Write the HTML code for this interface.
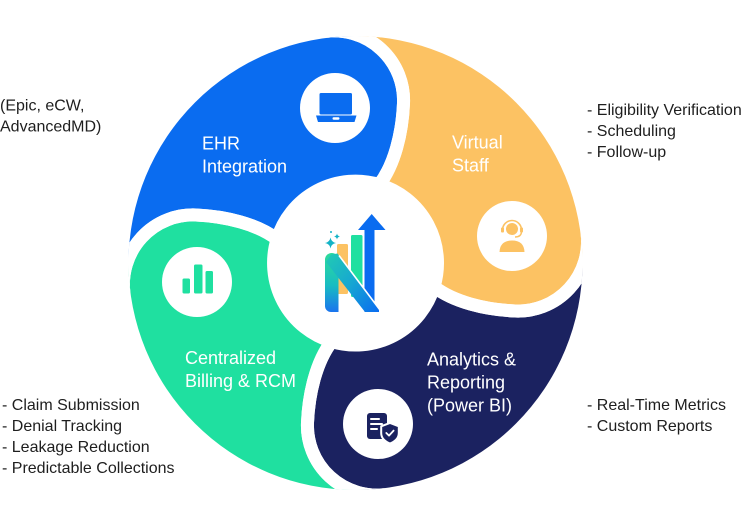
<!DOCTYPE html>
<html>
<head>
<meta charset="utf-8">
<style>
  html, body { margin: 0; padding: 0; background: #ffffff; }
  body { width: 752px; height: 532px; overflow: hidden; }
  svg { display: block; }
  .side { font-family: "Liberation Sans", Arial, sans-serif; font-size: 16px; fill: #1e1e1e; }
  .lbl { font-family: "Liberation Sans", Arial, sans-serif; font-size: 18px; fill: #ffffff; }
</style>
</head>
<body>
<svg width="752" height="532" viewBox="0 0 752 532" xmlns="http://www.w3.org/2000/svg">
  <defs>
    <clipPath id="outer">
      <circle cx="355.5" cy="263" r="227"/>
    </clipPath>
    <linearGradient id="gs" x1="0" y1="0" x2="0" y2="1">
      <stop offset="0" stop-color="#2ddc9a"/>
      <stop offset="0.55" stop-color="#19bcc2"/>
      <stop offset="1" stop-color="#1a74ee"/>
    </linearGradient>
    <linearGradient id="gd" x1="0" y1="0" x2="1" y2="1">
      <stop offset="0" stop-color="#22cbb2"/>
      <stop offset="0.5" stop-color="#16a6d2"/>
      <stop offset="1" stop-color="#0a6cf0"/>
    </linearGradient>
  </defs>

  <g clip-path="url(#outer)">
    <!-- fills -->
    <path fill="#0a6cf0" d="M379.3,184.6 C394.5,164.6 402.2,133.4 403.5,103.4 A69.5,69.5 0 0 0 325.0,31.5 L323.5,20.1 A245,245 0 0 0 112.6,295.0 L124.0,293.5 A69.5,69.5 0 0 1 195.9,215.0 C225.9,216.3 257.1,224.0 277.1,239.2 A82,82 0 0 1 379.3,184.6 Z"/>
    <path fill="#fcc263" d="M434.0,286.8 C453.9,302.0 485.1,309.7 515.1,311.0 A69.5,69.5 0 0 0 587.0,232.5 L598.4,231.0 A245,245 0 0 0 323.5,20.1 L325.0,31.5 A69.5,69.5 0 0 1 403.5,103.4 C402.2,133.4 394.5,164.6 379.3,184.6 A82,82 0 0 1 434.0,286.8 Z"/>
    <path fill="#1b2260" d="M331.7,341.5 C316.5,361.4 308.8,392.6 307.5,422.6 A69.5,69.5 0 0 0 386.0,494.5 L387.5,505.9 A245,245 0 0 0 598.4,231.0 L587.0,232.5 A69.5,69.5 0 0 1 515.1,311.0 C485.1,309.7 453.9,302.0 434.0,286.8 A82,82 0 0 1 331.7,341.5 Z"/>
    <path fill="#1fe0a0" d="M277.1,239.2 C257.1,224.0 225.9,216.3 195.9,215.0 A69.5,69.5 0 0 0 124.0,293.5 L112.6,295.0 A245,245 0 0 0 387.5,505.9 L386.0,494.5 A69.5,69.5 0 0 1 307.5,422.6 C308.8,392.6 316.5,361.4 331.7,341.5 A82,82 0 0 1 277.1,239.2 Z"/>
    <!-- white gaps -->
    <g fill="none" stroke="#ffffff" stroke-width="13" stroke-linejoin="round">
      <path d="M379.3,184.6 C394.5,164.6 402.2,133.4 403.5,103.4 A69.5,69.5 0 0 0 325.0,31.5 L323.5,20.1 A245,245 0 0 0 112.6,295.0 L124.0,293.5 A69.5,69.5 0 0 1 195.9,215.0 C225.9,216.3 257.1,224.0 277.1,239.2 A82,82 0 0 1 379.3,184.6 Z"/>
      <path d="M434.0,286.8 C453.9,302.0 485.1,309.7 515.1,311.0 A69.5,69.5 0 0 0 587.0,232.5 L598.4,231.0 A245,245 0 0 0 323.5,20.1 L325.0,31.5 A69.5,69.5 0 0 1 403.5,103.4 C402.2,133.4 394.5,164.6 379.3,184.6 A82,82 0 0 1 434.0,286.8 Z"/>
      <path d="M331.7,341.5 C316.5,361.4 308.8,392.6 307.5,422.6 A69.5,69.5 0 0 0 386.0,494.5 L387.5,505.9 A245,245 0 0 0 598.4,231.0 L587.0,232.5 A69.5,69.5 0 0 1 515.1,311.0 C485.1,309.7 453.9,302.0 434.0,286.8 A82,82 0 0 1 331.7,341.5 Z"/>
      <path d="M277.1,239.2 C257.1,224.0 225.9,216.3 195.9,215.0 A69.5,69.5 0 0 0 124.0,293.5 L112.6,295.0 A245,245 0 0 0 387.5,505.9 L386.0,494.5 A69.5,69.5 0 0 1 307.5,422.6 C308.8,392.6 316.5,361.4 331.7,341.5 A82,82 0 0 1 277.1,239.2 Z"/>
    </g>
  </g>

  <!-- icon circles -->
  <circle cx="335" cy="108" r="35" fill="#ffffff"/>
  <circle cx="512" cy="236" r="35" fill="#ffffff"/>
  <circle cx="378" cy="424" r="35" fill="#ffffff"/>
  <circle cx="197" cy="282" r="35" fill="#ffffff"/>

  <!-- laptop icon -->
  <rect x="319.5" y="93" width="32.5" height="21.5" rx="1.5" fill="#0a6cf0"/>
  <polygon points="316,115.5 356.5,115.5 354.5,122 318,122" fill="#0a6cf0"/>
  <rect x="332.5" y="117.3" width="7" height="2.4" rx="1.2" fill="#ffffff"/>

  <!-- headset icon -->
  <circle cx="512" cy="229" r="6" fill="#fcc263"/>
  <path d="M502.5,230 A9.5,9.5 0 0 1 521.5,230" fill="none" stroke="#fcc263" stroke-width="1.6"/>
  <rect x="501" y="227.5" width="3" height="5" rx="1" fill="#fcc263"/>
  <rect x="520" y="227.5" width="3" height="5" rx="1" fill="#fcc263"/>
  <path d="M521.5,232 Q521,237 515,237" fill="none" stroke="#fcc263" stroke-width="1.4"/>
  <path d="M499.5,252 Q500,240.5 512,240.5 Q524,240.5 524.5,252 Z" fill="#fcc263"/>

  <!-- document + shield icon -->
  <rect x="367" y="413" width="20" height="26" rx="3" fill="#1b2260"/>
  <g stroke="#ffffff" stroke-width="2" stroke-linecap="round">
    <line x1="371" y1="419" x2="379" y2="419"/>
    <line x1="371" y1="424" x2="382" y2="424"/>
    <line x1="371" y1="429" x2="377" y2="429"/>
  </g>
  <path d="M390,423 L398.8,426.3 L398.8,433 Q398.8,440 390,443.5 Q381.2,440 381.2,433 L381.2,426.3 Z" fill="#1b2260" stroke="#ffffff" stroke-width="2"/>
  <polyline points="386.3,433 389,435.6 393.6,430.6" fill="none" stroke="#ffffff" stroke-width="1.8" stroke-linecap="round" stroke-linejoin="round"/>

  <!-- bar chart icon -->
  <rect x="182.5" y="278.5" width="7.5" height="15" rx="1.5" fill="#1fe0a0"/>
  <rect x="194" y="264.5" width="8.5" height="29" rx="1.5" fill="#1fe0a0"/>
  <rect x="205.5" y="271" width="7.5" height="22.5" rx="1.5" fill="#1fe0a0"/>

  <!-- center logo -->
  <rect x="337" y="244" width="11" height="50" rx="1.5" fill="#fcc263"/>
  <rect x="351" y="235" width="11.5" height="62" rx="1.5" fill="#1fe0a0"/>
  <polygon points="371.7,214 385.5,230 374.5,230 374.5,312 364.5,312 364.5,230 358,230" fill="#0a6cf0"/>
  <path d="M325,259.7 A6.75,6.75 0 0 1 338.5,259.7 L338.5,312 L331,312 A6,6 0 0 1 325,306 Z" fill="url(#gs)"/>
  <polygon points="326,262 331,254.5 337.5,253.5 379,308.5 379,312 365,312" fill="url(#gd)"/>
  <line x1="339" y1="255.5" x2="380" y2="310" stroke="#ffffff" stroke-width="1.6"/>
  <path d="M330.5,237.5 Q331.3,242.2 336,243 Q331.3,243.8 330.5,248.5 Q329.7,243.8 325,243 Q329.7,242.2 330.5,237.5 Z" fill="#14b3c6"/>
  <path d="M337,233.5 Q337.4,236.1 340,236.5 Q337.4,236.9 337,239.5 Q336.6,236.9 334,236.5 Q336.6,236.1 337,233.5 Z" fill="#14b3c6"/>
  <circle cx="331" cy="232" r="1" fill="#14b3c6"/>

  <!-- petal labels -->
  <text class="lbl" x="202" y="149.5">EHR</text>
  <text class="lbl" x="202" y="172.5">Integration</text>
  <text class="lbl" x="452" y="148.5">Virtual</text>
  <text class="lbl" x="452" y="171.5">Staff</text>
  <text class="lbl" x="185" y="364">Centralized</text>
  <text class="lbl" x="185" y="387">Billing &amp; RCM</text>
  <text class="lbl" x="427" y="365.5">Analytics &amp;</text>
  <text class="lbl" x="427" y="388.5">Reporting</text>
  <text class="lbl" x="427" y="411.5">(Power BI)</text>

  <!-- side texts -->
  <text class="side" x="0" y="110.5">(Epic, eCW,</text>
  <text class="side" x="0" y="131.5">AdvancedMD)</text>

  <text class="side" x="587" y="115">- Eligibility Verification</text>
  <text class="side" x="587" y="136">- Scheduling</text>
  <text class="side" x="587" y="157">- Follow-up</text>

  <text class="side" x="2" y="410">- Claim Submission</text>
  <text class="side" x="2" y="431">- Denial Tracking</text>
  <text class="side" x="2" y="452">- Leakage Reduction</text>
  <text class="side" x="2" y="473">- Predictable Collections</text>

  <text class="side" x="587" y="410">- Real-Time Metrics</text>
  <text class="side" x="587" y="431">- Custom Reports</text>
</svg>
</body>
</html>
